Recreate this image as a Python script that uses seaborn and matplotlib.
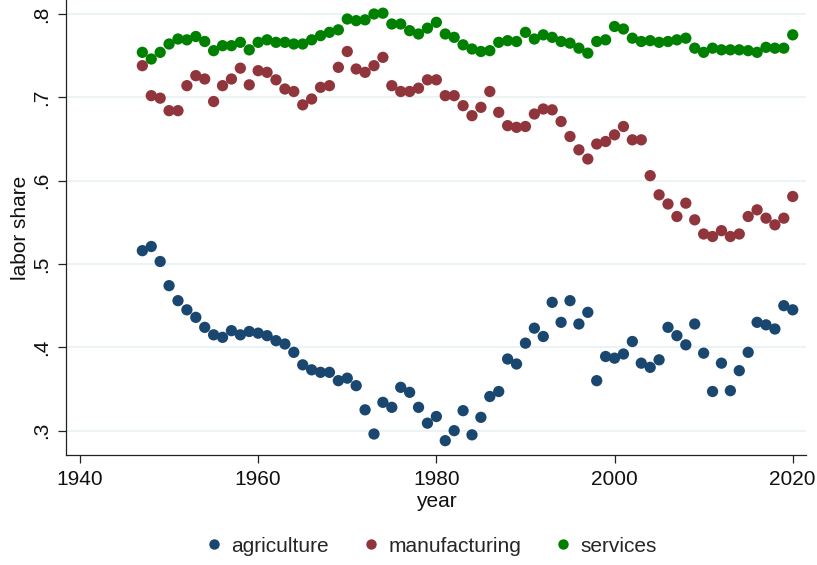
import numpy as np
import pandas as pd
import matplotlib
matplotlib.use("Agg")
import matplotlib.pyplot as plt
import seaborn as sns
from matplotlib.lines import Line2D
from matplotlib.ticker import FuncFormatter

years = list(range(1947, 2021))

agriculture = [
    0.516, 0.521, 0.503, 0.474, 0.456, 0.445, 0.436, 0.424, 0.415, 0.412,
    0.420, 0.415, 0.419, 0.417, 0.414, 0.408, 0.404, 0.394, 0.379, 0.373,
    0.370, 0.370, 0.360, 0.363, 0.354, 0.325, 0.296, 0.334, 0.328, 0.352,
    0.346, 0.328, 0.309, 0.317, 0.288, 0.300, 0.324, 0.295, 0.316, 0.341,
    0.347, 0.386, 0.380, 0.405, 0.423, 0.413, 0.454, 0.430, 0.456, 0.428,
    0.442, 0.360, 0.389, 0.387, 0.392, 0.407, 0.381, 0.376, 0.385, 0.424,
    0.414, 0.403, 0.428, 0.393, 0.347, 0.381, 0.348, 0.372, 0.394, 0.430,
    0.427, 0.422, 0.450, 0.445,
]

manufacturing = [
    0.738, 0.702, 0.699, 0.684, 0.684, 0.714, 0.726, 0.722, 0.695, 0.714,
    0.722, 0.735, 0.715, 0.732, 0.730, 0.721, 0.710, 0.707, 0.691, 0.698,
    0.712, 0.714, 0.736, 0.755, 0.734, 0.730, 0.738, 0.748, 0.714, 0.707,
    0.707, 0.711, 0.721, 0.721, 0.702, 0.702, 0.690, 0.678, 0.688, 0.707,
    0.682, 0.666, 0.664, 0.665, 0.680, 0.686, 0.685, 0.671, 0.653, 0.637,
    0.626, 0.644, 0.647, 0.655, 0.665, 0.649, 0.649, 0.606, 0.583, 0.572,
    0.557, 0.573, 0.553, 0.536, 0.533, 0.540, 0.533, 0.536, 0.557, 0.565,
    0.555, 0.547, 0.555, 0.581,
]

services = [
    0.754, 0.746, 0.754, 0.764, 0.770, 0.769, 0.773, 0.767, 0.756, 0.762,
    0.762, 0.766, 0.757, 0.766, 0.769, 0.766, 0.766, 0.764, 0.764, 0.769,
    0.774, 0.778, 0.781, 0.794, 0.792, 0.793, 0.800, 0.801, 0.788, 0.788,
    0.780, 0.776, 0.783, 0.790, 0.776, 0.772, 0.763, 0.758, 0.755, 0.756,
    0.766, 0.768, 0.767, 0.778, 0.770, 0.775, 0.772, 0.767, 0.765, 0.759,
    0.753, 0.767, 0.769, 0.785, 0.782, 0.771, 0.767, 0.768, 0.766, 0.767,
    0.769, 0.771, 0.759, 0.754, 0.759, 0.757, 0.757, 0.757, 0.756, 0.754,
    0.760, 0.759, 0.759, 0.775,
]

sectors = ["agriculture", "manufacturing", "services"]
colors = ["#1a476f", "#90353b", "#008000"]

df = pd.DataFrame({
    "year": years * 3,
    "share": agriculture + manufacturing + services,
    "sector": np.repeat(sectors, len(years)),
})

sns.set_theme(style="white")
plt.rcParams["font.family"] = ["Liberation Sans", "DejaVu Sans"]

fig = plt.figure(figsize=(8.17, 5.65), dpi=100)
ax = fig.add_axes([66 / 817, 1 - 455 / 565, (806 - 66) / 817, 455 / 565])

sns.scatterplot(
    data=df, x="year", y="share", hue="sector", hue_order=sectors,
    palette=colors, s=66, linewidth=0, ax=ax, legend=False, zorder=3,
)

ax.set_xlim(1938.43, 2021.49)
ax.set_ylim(0.2708, 0.8168)
ax.set_xticks([1940, 1960, 1980, 2000, 2020])
ax.set_yticks([0.3, 0.4, 0.5, 0.6, 0.7, 0.8])
ax.yaxis.set_major_formatter(FuncFormatter(lambda v, _: ("%.1f" % v).lstrip("0")))
ax.grid(axis="y", color="#eaf2f3", linewidth=1.3, zorder=0)
ax.grid(axis="x", visible=False)

for side in ("top", "right"):
    ax.spines[side].set_visible(False)
for side in ("left", "bottom"):
    ax.spines[side].set_color("#222222")
    ax.spines[side].set_linewidth(0.9)

ax.tick_params(axis="both", which="major", length=6, width=0.9, color="#222222",
               labelsize=15, labelcolor="#111111", pad=5,
               left=True, bottom=True)
for lab in ax.get_yticklabels():
    lab.set_rotation(90)
    lab.set_va("center")

ax.set_xlabel("year", fontsize=15, color="#111111", labelpad=2)
ax.set_ylabel("labor share", fontsize=15, color="#111111", labelpad=1)

handles = [Line2D([], [], linestyle="none", marker="o", markersize=7.5,
                  markerfacecolor=c, markeredgewidth=0) for c in colors]
fig.legend(handles, sectors, loc="center", bbox_to_anchor=(430 / 817, 1 - 546 / 565),
           ncol=3, frameon=False, fontsize=15, handletextpad=0.35,
           columnspacing=1.5, handlelength=1.0)

fig.savefig("out.png", dpi=100)
